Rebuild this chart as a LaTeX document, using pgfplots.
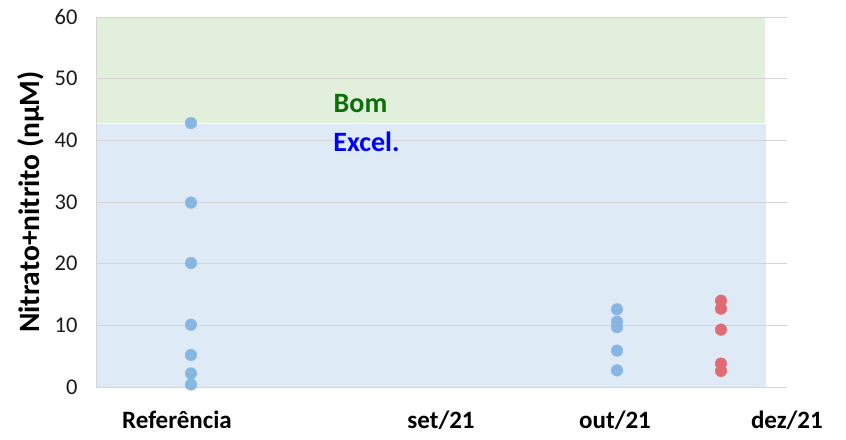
\documentclass[border=0pt]{standalone}
\usepackage{fontspec}
\setmainfont{Carlito}
\usepackage{pgfplots}
\pgfplotsset{compat=1.18}
\definecolor{bandGreen}{HTML}{E2EFDA}
\definecolor{bandBlue}{HTML}{DEEAF6}
\definecolor{gridGray}{HTML}{D4D4D4}
\definecolor{dotBlue}{HTML}{88B6E2}
\definecolor{dotRed}{HTML}{E06B75}
\definecolor{bomGreen}{HTML}{0A700A}
\definecolor{tickInk}{HTML}{1A1A1A}

\begin{document}
\begin{tikzpicture}
\begin{axis}[
  set layers,
  scale only axis,
  width=691bp, height=370bp,
  xmin=96, xmax=787,
  ymin=0, ymax=60,
  ytick={0,10,...,60},
  xtick={177,441,615,786.9},
  xticklabels={Referência, set/21, out/21, dez/21},
  major tick length=0pt,
  ymajorgrids,
  grid style={gridGray, line width=0.9bp},
  axis lines*=left,
  separate axis lines,
  x axis line style={draw=none},
  y axis line style={gridGray, line width=0.9bp},
  clip=false,
  /pgf/number format/assume math mode=true,
  yticklabel style={font=\fontsize{22.5bp}{24bp}\selectfont, text=tickInk, anchor=east, xshift=-15bp},
  xticklabel style={font=\bfseries\fontsize{25bp}{26bp}\selectfont, anchor=base, yshift=-41bp},
  every axis y label/.style={at={(axis description cs:0,0.5)}, xshift=-65bp, rotate=90, anchor=center},
  ylabel={\bfseries\fontsize{29.5bp}{30bp}\selectfont Nitrato+nitrito (nµM)},
]
% faixas de qualidade
\addplot[on layer=axis background, fill=bandGreen, draw=none]
  coordinates {(96,42.8) (765,42.8) (765,60) (96,60)} -- cycle;
\addplot[on layer=axis background, fill=bandBlue, draw=none]
  coordinates {(96,0) (766,0) (766,42.6) (96,42.6)} -- cycle;

% Referência
\addplot[only marks, mark=*, mark size=5.8bp, color=dotBlue] coordinates {
  (191,42.8) (191,29.9) (191,20.1) (191,10.1) (191,5.2) (191,2.2) (191,0.4)
};
% out/21
\addplot[only marks, mark=*, mark size=5.8bp, color=dotBlue] coordinates {
  (617,12.6) (617,10.6) (617,9.7) (617,5.9) (617,2.7)
};
% nov/21
\addplot[only marks, mark=*, mark size=5.8bp, color=dotRed] coordinates {
  (721,14.0) (721,12.7) (721,9.3) (721,3.8) (721,2.6)
};

\node[anchor=base, text=bomGreen, font=\bfseries\fontsize{28bp}{30bp}\selectfont]
  at (axis cs:360.5,44.55) {Bom};
\node[anchor=base, text=blue, font=\bfseries\fontsize{28bp}{30bp}\selectfont]
  at (axis cs:366.5,38.2) {Excel.};
\end{axis}
\pgfresetboundingbox
\useasboundingbox (-96bp,-53bp) rectangle (750bp,387bp);
\end{tikzpicture}
\end{document}
